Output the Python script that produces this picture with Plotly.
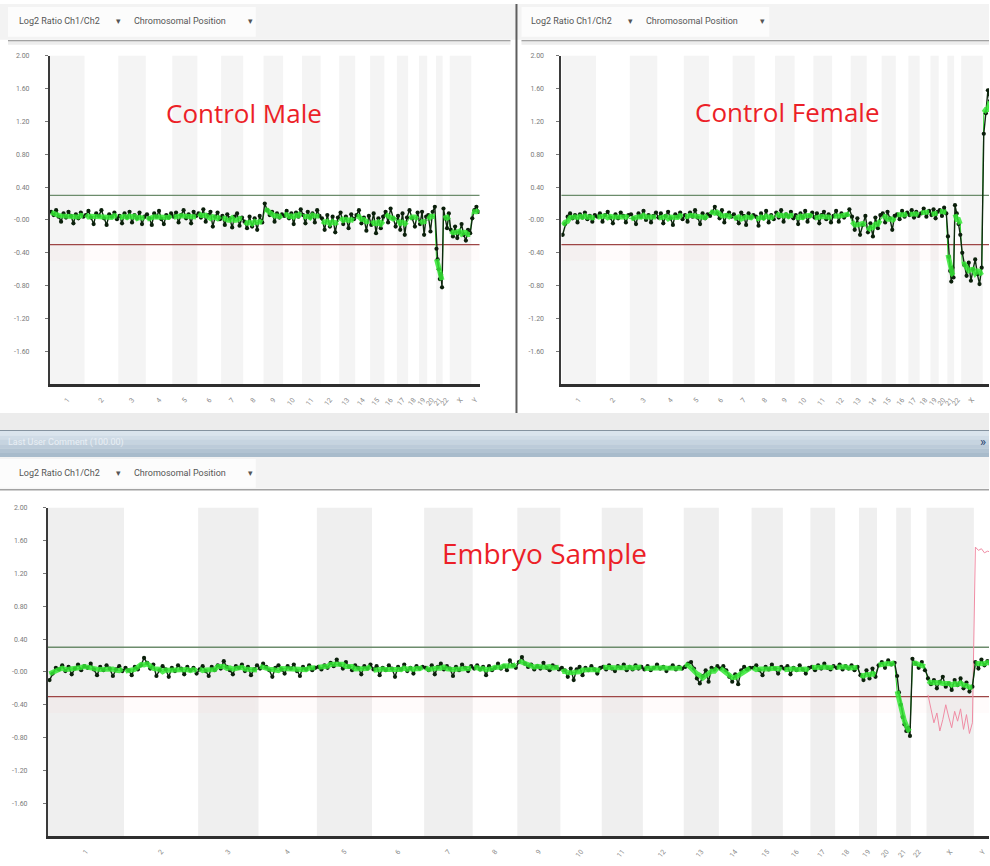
import numpy as np
import pandas as pd
import plotly.graph_objects as go

FIG_W, FIG_H = 990, 866

# Genome layout (hg19 chromosome lengths, Mb)
CHROMOSOMES = [str(i) for i in range(1, 23)] + ["X", "Y"]
CHROM_SIZES_MB = [249.3, 243.2, 198.0, 191.2, 180.9, 171.1, 159.1, 146.4, 141.2, 135.5,
                  135.0, 133.9, 115.2, 107.3, 102.5, 90.4, 81.2, 78.1, 59.1, 63.0,
                  48.1, 51.3, 155.3, 59.4]

Y_TICKS = [2.0, 1.6, 1.2, 0.8, 0.4, 0.0, -0.4, -0.8, -1.2, -1.6]
GAIN_THRESHOLD = 0.30
LOSS_THRESHOLD = -0.30

PANEL_TITLES = ["Control Male", "Control Female", "Embryo Sample"]

# Log2 ratio per probe, listed chromosome by chromosome
MALE_LOG2 = {
    "1": [0.10, 0.06, 0.12, 0.04, -0.02, 0.08, 0.03, 0.10, 0.05, -0.04, 0.07, 0.02, 0.09, 0.04],
    "2": [0.06, 0.11, 0.03, -0.05, 0.08, 0.05, 0.12, 0.02, -0.06, 0.07, 0.04, 0.09, 0.01],
    "3": [0.05, -0.04, 0.08, 0.03, 0.10, -0.03, 0.06, 0.02, 0.09, -0.05, 0.04],
    "4": [0.07, 0.02, -0.06, 0.08, 0.04, 0.11, 0.01, -0.05, 0.06, 0.03, 0.08],
    "5": [0.04, 0.09, -0.03, 0.06, 0.12, 0.02, 0.07, -0.04, 0.10, 0.05],
    "6": [0.08, 0.03, 0.13, -0.02, 0.06, 0.10, -0.08, 0.04, 0.09, 0.01],
    "7": [0.05, -0.06, 0.07, 0.02, -0.09, 0.04, 0.08, -0.07, 0.03],
    "8": [-0.02, -0.10, 0.04, -0.08, 0.02, -0.12, 0.05, -0.03],
    "9": [0.20, 0.12, 0.06, 0.10, -0.02, 0.08, 0.03, 0.07],
    "10": [0.05, 0.11, 0.02, 0.08, -0.05, 0.09, 0.04, 0.13],
    "11": [0.06, -0.04, 0.10, 0.03, 0.08, -0.03, 0.12, 0.05],
    "12": [0.02, -0.12, 0.06, -0.08, 0.04, -0.15, 0.03],
    "13": [0.09, -0.05, 0.04, -0.10, 0.07, 0.01],
    "14": [0.06, 0.12, -0.04, 0.03, -0.13, 0.05],
    "15": [-0.06, 0.08, -0.16, 0.02, -0.10, 0.04],
    "16": [0.10, -0.03, 0.14, 0.02, -0.08],
    "17": [0.05, -0.12, 0.08, -0.18, 0.03],
    "18": [0.12, 0.02, -0.08, 0.09],
    "19": [-0.05, 0.10, -0.18, 0.04],
    "20": [0.06, -0.14, 0.10, 0.16],
    "21": [-0.35, -0.48, -0.60, -0.72, -0.66, -0.82],
    "22": [0.14, 0.02, -0.10, 0.08],
    "X": [-0.12, -0.20, -0.08, -0.22, -0.15, -0.05, -0.18, -0.25, -0.12, -0.16],
    "Y": [0.02, 0.12, 0.16, 0.10],
}

FEMALE_LOG2 = {
    "1": [-0.18, -0.05, 0.04, 0.08, 0.02, 0.06, -0.03, 0.07, 0.03, 0.09, 0.01, 0.05, -0.02, 0.06],
    "2": [0.04, 0.08, -0.02, 0.06, 0.10, 0.03, -0.04, 0.07, 0.02, 0.09, 0.05, -0.03, 0.06],
    "3": [0.07, 0.02, -0.05, 0.08, 0.04, 0.11, 0.00, 0.06, -0.03, 0.05, 0.09],
    "4": [0.03, 0.08, -0.04, 0.05, 0.10, 0.02, -0.06, 0.07, 0.04, 0.09, 0.01],
    "5": [0.06, -0.02, 0.09, 0.04, 0.12, 0.03, -0.05, 0.08, 0.02, 0.07],
    "6": [0.05, 0.10, 0.16, 0.08, 0.02, 0.12, -0.03, 0.06, 0.09, 0.04],
    "7": [0.07, 0.02, -0.04, 0.09, 0.05, -0.06, 0.08, 0.03, 0.06],
    "8": [0.04, -0.07, 0.08, 0.02, 0.11, -0.03, 0.06, 0.01],
    "9": [0.09, 0.03, 0.12, -0.02, 0.07, 0.04, 0.10, 0.02],
    "10": [0.06, -0.05, 0.08, 0.03, 0.11, -0.02, 0.05, 0.09],
    "11": [0.03, 0.08, -0.04, 0.06, 0.10, 0.01, 0.07, -0.03],
    "12": [0.05, 0.11, -0.02, 0.08, 0.03, 0.06, 0.13],
    "13": [0.04, -0.12, 0.02, -0.18, -0.06, 0.05],
    "14": [-0.15, -0.04, -0.20, 0.03, -0.10, 0.06],
    "15": [0.08, -0.03, 0.10, 0.02, -0.12, 0.05],
    "16": [0.07, 0.01, 0.11, 0.04, 0.09],
    "17": [0.06, 0.12, 0.03, 0.10, 0.05],
    "18": [0.08, 0.14, 0.04, 0.11],
    "19": [0.06, 0.13, 0.02, 0.10],
    "20": [0.12, 0.05, 0.15, 0.08],
    "21": [-0.20, -0.45, -0.62, -0.75, -0.58, -0.70],
    "22": [0.18, 0.08, -0.05, -0.18],
    "X": [-0.40, -0.55, -0.68, -0.52, -0.74, -0.60, -0.48, -0.66, -0.78, -0.58],
    "Y": [1.05, 1.30, 1.58, 1.45],
}

EMBRYO_LOG2 = {
    "1": [-0.10, -0.02, 0.05, 0.03, 0.08, 0.01, 0.06, -0.03, 0.04, 0.09, 0.02, 0.07,
          0.05, 0.10, 0.03, -0.04, 0.06, 0.02, 0.08, 0.04, -0.05, 0.03, 0.07, 0.01],
    "2": [0.05, 0.02, -0.04, 0.06, 0.03, 0.08, 0.17, 0.11, 0.04, 0.09, -0.05, 0.02,
          0.07, 0.03, -0.06, 0.05, 0.01, 0.08, 0.04, -0.03, 0.06, 0.02, 0.05, -0.02],
    "3": [0.03, 0.07, 0.01, -0.05, 0.06, 0.02, 0.08, 0.04, 0.13, 0.06, 0.02, -0.03,
          0.07, 0.05, 0.09, 0.01, 0.06, -0.04, 0.03, 0.08],
    "4": [0.04, 0.10, 0.06, 0.02, -0.06, 0.05, 0.08, 0.03, -0.02, 0.07, 0.04, 0.09,
          0.01, -0.05, 0.06, 0.03, 0.08, 0.02, 0.05],
    "5": [0.06, 0.03, 0.08, 0.05, 0.11, 0.07, 0.15, 0.09, 0.04, 0.12, 0.06, 0.02,
          0.08, 0.05, -0.03, 0.07, 0.04, 0.09],
    "6": [0.03, 0.07, -0.04, 0.05, 0.02, 0.08, 0.04, -0.06, 0.06, 0.03, 0.09, 0.01,
          0.05, -0.02, 0.07, 0.04, 0.06],
    "7": [0.05, 0.02, 0.08, -0.03, 0.06, 0.10, 0.03, 0.07, 0.04, -0.05, 0.06, 0.02,
          0.09, 0.05, 0.01, 0.07],
    "8": [0.04, 0.08, 0.03, 0.06, -0.04, 0.07, 0.02, 0.05, 0.10, 0.04, 0.07, 0.02,
          0.14, 0.08, 0.05],
    "9": [0.12, 0.18, 0.10, 0.06, 0.09, 0.03, 0.07, 0.04, 0.11, 0.05, 0.02, 0.08, 0.06, 0.03],
    "10": [0.05, 0.02, -0.06, 0.04, -0.10, 0.03, 0.06, -0.04, 0.05, 0.02, 0.07, 0.03, -0.02, 0.05],
    "11": [0.06, 0.03, 0.08, 0.04, 0.01, 0.07, 0.05, 0.09, 0.02, 0.06, 0.03, 0.08, 0.04, 0.06],
    "12": [0.03, 0.07, 0.02, 0.05, 0.09, 0.04, 0.06, 0.01, 0.05, 0.08, 0.03, 0.06, 0.04],
    "13": [0.06, 0.10, 0.12, 0.04, -0.08, -0.14, -0.05, 0.02, -0.12, 0.05, 0.03, 0.07],
    "14": [0.04, 0.07, 0.02, -0.06, -0.12, -0.03, -0.15, 0.02, 0.06, 0.03, 0.05],
    "15": [0.05, 0.08, 0.02, -0.04, 0.06, 0.03, 0.09, 0.04, -0.02, 0.06],
    "16": [0.04, 0.07, -0.03, 0.05, 0.02, 0.08, 0.03, -0.02, 0.05],
    "17": [0.06, 0.02, 0.08, 0.04, 0.10, 0.05, 0.03, 0.07],
    "18": [0.05, 0.09, 0.03, 0.07, 0.04, 0.08, 0.02, 0.06],
    "19": [-0.04, -0.10, 0.02, -0.08, 0.04, -0.06],
    "20": [0.08, 0.12, 0.05, 0.14, 0.09, 0.11],
    "21": [-0.05, -0.25, -0.40, -0.55, -0.64, -0.72, -0.68, -0.78],
    "22": [0.16, 0.10, 0.05, 0.12, 0.02],
    "X": [-0.08, -0.15, -0.10, -0.20, -0.12, -0.06, -0.18, -0.14, -0.22, -0.10,
          -0.16, -0.08, -0.20, -0.13, -0.24, -0.18],
    "Y": [0.12, 0.04, 0.15, 0.08, 0.13, 0.10],
}

# Overlaid reference profile on the sex chromosomes
EMBRYO_OVERLAY = {
    "X": [-0.28, -0.45, -0.62, -0.50, -0.72, -0.58, -0.40, -0.55, -0.68, -0.48,
          -0.60, -0.45, -0.70, -0.52, -0.75, -0.62],
    "Y": [1.52, 1.48, 1.50, 1.45, 1.47, 1.46],
}

# ---------------------------------------------------------------------------
GENOME_MB = float(np.sum(CHROM_SIZES_MB))
STARTS = dict(zip(CHROMOSOMES, np.concatenate([[0.0], np.cumsum(CHROM_SIZES_MB)[:-1]])))
SIZES = dict(zip(CHROMOSOMES, CHROM_SIZES_MB))
CENTERS = [STARTS[c] + SIZES[c] / 2 for c in CHROMOSOMES]


def px_x(x):
    return x / FIG_W


def px_y(y):
    return 1 - y / FIG_H


def probes(values_by_chr):
    rows = []
    for c in CHROMOSOMES:
        vals = values_by_chr.get(c, [])
        n = len(vals)
        for j, v in enumerate(vals):
            rows.append((STARTS[c] + (j + 0.5) / n * SIZES[c], v, c))
    df = pd.DataFrame(rows, columns=["x", "y", "chr"])
    df["smooth"] = df.groupby("chr", sort=False)["y"].transform(
        lambda s: s.rolling(5, center=True, min_periods=1).mean())
    return df


# panel geometry in screen pixels: left, right, top (2.0), bottom (-2.0)
PANELS = [
    dict(data=MALE_LOG2, ax="", px=(50, 480, 52, 382), title=(244, 110, 26),
         band="#f4f4f4", stand=14),
    dict(data=FEMALE_LOG2, ax="2", px=(562, 990, 52, 382), title=(788, 108, 26),
         band="#f4f4f4", stand=11, full_right=992),
    dict(data=EMBRYO_LOG2, ax="3", px=(48, 990, 506, 836), title=(545, 552, 28),
         band="#efefef", stand=14, full_right=993),
]

fig = go.Figure()
shapes = []
annotations = []
layout_axes = {}

for i, p in enumerate(PANELS):
    left, right, top, bottom = p["px"]
    full_right = p.get("full_right", right)
    xr = GENOME_MB * (right - left) / (full_right - left)
    xname = "xaxis" + p["ax"]
    yname = "yaxis" + p["ax"]
    xref = "x" + p["ax"]
    yref = "y" + p["ax"]

    layout_axes[xname] = dict(
        domain=[px_x(left), px_x(right)], range=[0, xr], anchor=yref,
        showgrid=False, zeroline=False, showline=True, linecolor="#2e2e2e", linewidth=2.5,
        tickmode="array", tickvals=CENTERS, ticktext=CHROMOSOMES, tickangle=-50,
        ticks="outside", ticklen=6, tickcolor="rgba(0,0,0,0)",
        tickfont=dict(family="Roboto", size=7, color="#8a8a8a"), fixedrange=True,
    )
    layout_axes[yname] = dict(
        domain=[px_y(bottom), px_y(top)], range=[-2, 2], anchor=xref,
        showgrid=False, zeroline=False, showline=True, linecolor="#3a3a3a", linewidth=2,
        tickmode="array", tickvals=Y_TICKS,
        ticktext=["-0.00" if v == 0 else f"{v:.2f}" for v in Y_TICKS],
        ticks="outside", ticklen=3, tickwidth=1, tickcolor="#777",
        tickfont=dict(family="Roboto", size=7, color="#7a7a7a"),
        ticklabelstandoff=p["stand"], fixedrange=True,
    )

    # alternating chromosome shading
    for k, c in enumerate(CHROMOSOMES):
        if k % 2 == 0:
            shapes.append(dict(type="rect", xref=xref, yref=f"{yref} domain",
                               x0=STARTS[c], x1=STARTS[c] + SIZES[c], y0=0, y1=1,
                               fillcolor=p["band"], line=dict(width=0), layer="below"))
    # faint tint just under the loss threshold
    shapes.append(dict(type="rect", xref=f"{xref} domain", yref=yref, x0=0, x1=1,
                       y0=LOSS_THRESHOLD - 0.2, y1=LOSS_THRESHOLD,
                       fillcolor="rgba(255,205,210,0.08)", line=dict(width=0), layer="below"))
    # aberration thresholds
    shapes.append(dict(type="line", xref=f"{xref} domain", yref=yref, x0=0, x1=1,
                       y0=GAIN_THRESHOLD, y1=GAIN_THRESHOLD,
                       line=dict(color="#6c8c6c", width=1.3), layer="below"))
    shapes.append(dict(type="line", xref=f"{xref} domain", yref=yref, x0=0, x1=1,
                       y0=LOSS_THRESHOLD, y1=LOSS_THRESHOLD,
                       line=dict(color="#9e4646", width=1.3), layer="below"))

    df = probes(p["data"])

    if i == 2:
        ov = probes(EMBRYO_OVERLAY)
        fig.add_trace(go.Scatter(x=ov["x"], y=ov["y"], mode="lines",
                                 line=dict(color="#f08ca4", width=1),
                                 xaxis=xref, yaxis=yref, hoverinfo="skip"))

    # thin connector of the smoothed profile across chromosomes
    fig.add_trace(go.Scatter(x=df["x"], y=df["smooth"], mode="lines",
                             line=dict(color="#2fd62f", width=1),
                             xaxis=xref, yaxis=yref, hoverinfo="skip"))
    # individual probes
    fig.add_trace(go.Scatter(x=df["x"], y=df["y"], mode="lines+markers",
                             line=dict(color="#102a10", width=1.4),
                             marker=dict(color="#0c200c", size=4.2),
                             xaxis=xref, yaxis=yref, hoverinfo="skip"))
    # smoothed profile, drawn per chromosome
    gx, gy = [], []
    for c, g in df.groupby("chr", sort=False):
        gx += list(g["x"]) + [None]
        gy += list(g["smooth"]) + [None]
    fig.add_trace(go.Scatter(x=gx, y=gy, mode="lines",
                             line=dict(color="#36e836", width=5), opacity=0.85,
                             xaxis=xref, yaxis=yref, hoverinfo="skip"))

    tx, ty, ts = p["title"]
    annotations.append(dict(text=PANEL_TITLES[i], x=px_x(tx), y=px_y(ty),
                            xref="paper", yref="paper", showarrow=False,
                            xanchor="center", yanchor="middle",
                            font=dict(family="Open Sans", size=ts, color="#ec1f28")))

# ---- window chrome ---------------------------------------------------------
def rect(x0, y0, x1, y1, color, layer="below"):
    shapes.append(dict(type="rect", xref="paper", yref="paper",
                       x0=px_x(x0), x1=px_x(x1), y0=px_y(y1), y1=px_y(y0),
                       fillcolor=color, line=dict(width=0), layer=layer))


def hline(x0, x1, y, color, width):
    shapes.append(dict(type="line", xref="paper", yref="paper",
                       x0=px_x(x0), x1=px_x(x1), y0=px_y(y), y1=px_y(y),
                       line=dict(color=color, width=width), layer="below"))


def label(text, x, y, size=9, color="#555555", anchor="left", family="Roboto"):
    annotations.append(dict(text=text, x=px_x(x), y=px_y(y), xref="paper", yref="paper",
                            showarrow=False, xanchor=anchor, yanchor="middle",
                            font=dict(family=family, size=size, color=color)))


# top toolbars
rect(0, 0, 990, 36, "#f3f3f3")
rect(8, 3, 256, 33, "#fcfcfc")
rect(522, 3, 770, 33, "#fcfcfc")
hline(8, 511, 37, "#a2a2a2", 1.5)
hline(522, 990, 37, "#a2a2a2", 1.5)
rect(8, 38, 511, 41, "#ededed")
rect(522, 38, 990, 41, "#ededed")
# panel divider
shapes.append(dict(type="line", xref="paper", yref="paper",
                   x0=px_x(517), x1=px_x(517), y0=px_y(412), y1=px_y(0),
                   line=dict(color="#5e5e5e", width=2), layer="below"))
# strip below the upper panels
rect(0, 411, 990, 428, "#ececec")
hline(0, 990, 428.5, "#8593a0", 1.2)
# title bar with a vertical gradient
bar_colors = ["#dae4ed", "#d0dce7", "#c6d4e0", "#bccbd9", "#b2c3d2", "#a8bbcb"]
for k, col in enumerate(bar_colors):
    rect(0, 429 + k * 4.4, 990, 429 + (k + 1) * 4.4 + 0.3, col)
label("Last User Comment (100.00)", 6, 441, size=9, color="#e9eff5")
label("»", 984, 440, size=13, color="#1f3c6c", anchor="center")
# lower toolbar
rect(0, 455, 990, 487, "#f3f3f3")
rect(0, 457, 256, 486, "#fcfcfc")
hline(0, 990, 488, "#a2a2a2", 1.5)

for (x0, y0) in [(17, 17), (530, 17), (17, 471)]:
    label("Log2 Ratio Ch1/Ch2", x0, y0)
    label("▾", x0 + 97, y0)
    label("Chromosomal Position", x0 + 115, y0)
    label("▾", x0 + 229, y0)

fig.update_layout(
    width=FIG_W, height=FIG_H, autosize=False,
    margin=dict(l=0, r=0, t=0, b=0, pad=0),
    paper_bgcolor="white", plot_bgcolor="rgba(0,0,0,0)",
    showlegend=False, shapes=shapes, annotations=annotations,
    **layout_axes,
)

fig.write_html("out.html", config={"displayModeBar": False})
